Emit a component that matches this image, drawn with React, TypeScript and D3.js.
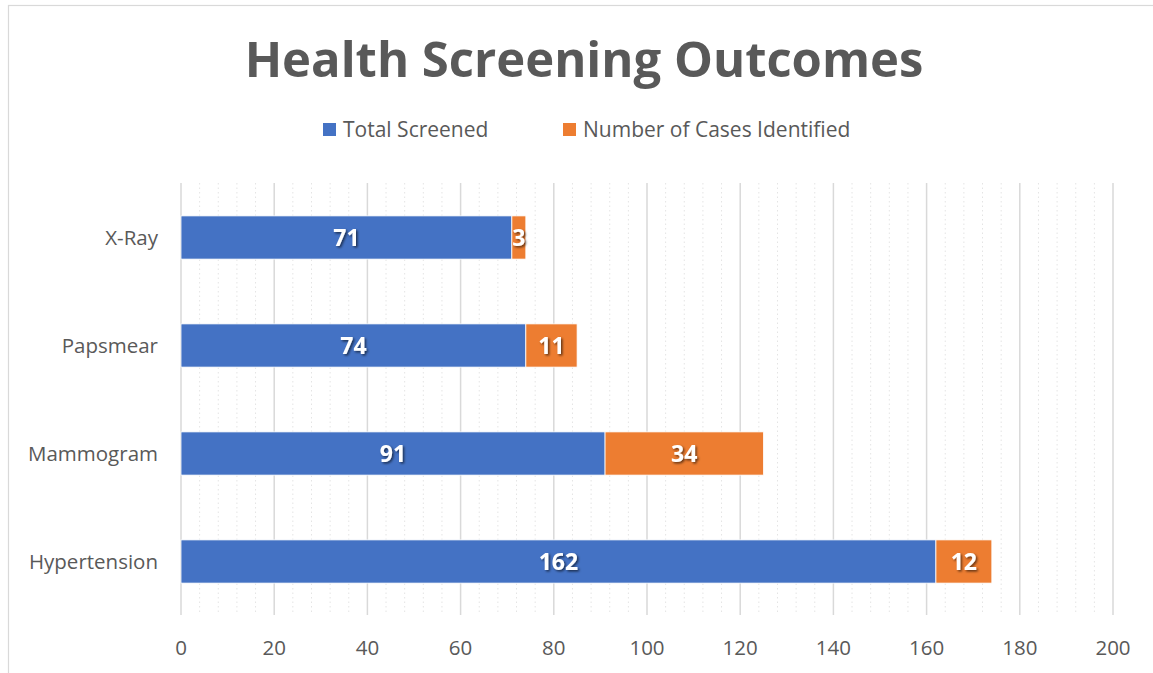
import React, { useEffect, useRef } from 'react';
import * as d3 from 'd3';

const categories = ['X-Ray', 'Papsmear', 'Mammogram', 'Hypertension'];
const totalScreened = [71, 74, 91, 162];
const casesIdentified = [3, 11, 34, 12];
const seriesNames = ['Total Screened', 'Number of Cases Identified'];
const xTicks = [0, 20, 40, 60, 80, 100, 120, 140, 160, 180, 200];

const W = 1153;
const H = 673;
const FONT = "'Open Sans', 'Noto Sans', sans-serif";

const App = () => {
  const svgRef = useRef<SVGSVGElement>(null);

  useEffect(() => {
    document.body.style.margin = '0';
    const svg = d3.select(svgRef.current).attr('width', W).attr('height', H);
    svg.selectAll('*').remove();

    svg.append('rect').attr('width', W).attr('height', H).attr('fill', '#fff');
    // chart border
    svg.append('rect')
      .attr('x', 8.5).attr('y', 5.5).attr('width', W).attr('height', H)
      .attr('fill', 'none').attr('stroke', '#d9d9d9').attr('stroke-width', 1.2);

    const defs = svg.append('defs');
    const f = defs.append('filter').attr('id', 'shadow')
      .attr('x', '-20%').attr('y', '-20%').attr('width', '150%').attr('height', '150%');
    f.append('feDropShadow')
      .attr('dx', 1.5).attr('dy', 1.5).attr('stdDeviation', 1)
      .attr('flood-color', '#000').attr('flood-opacity', 0.6);

    svg.append('text')
      .attr('x', 584).attr('y', 77)
      .attr('text-anchor', 'middle')
      .style('font-family', FONT)
      .style('font-size', '49px')
      .style('font-weight', '700')
      .style('fill', '#595959')
      .text('Health Screening Outcomes');

    // legend
    const colors = ['#4472c4', '#ed7d31'];
    const legendX = [323, 563];
    seriesNames.forEach((name, i) => {
      svg.append('rect')
        .attr('x', legendX[i]).attr('y', 123).attr('width', 13).attr('height', 13)
        .attr('fill', colors[i]);
      svg.append('text')
        .attr('x', legendX[i] + 20).attr('y', 137)
        .style('font-family', FONT).style('font-size', '21px').style('fill', '#595959')
        .text(name);
    });

    const x = d3.scaleLinear().domain([0, 200]).range([181, 1113]);
    const y = d3.scaleBand().domain(categories).range([183.5, 615.5]).paddingInner(0.6).paddingOuter(0.3);

    const g = svg.append('g');
    // minor gridlines
    g.selectAll('line.minor')
      .data(d3.range(0, 201, 4).filter(v => v % 20 !== 0))
      .enter().append('line')
      .attr('x1', d => x(d)).attr('x2', d => x(d))
      .attr('y1', 183).attr('y2', 615)
      .attr('stroke', '#e4e4e4').attr('stroke-width', 1).attr('stroke-dasharray', '1.5,3');
    // major gridlines
    g.selectAll('line.major')
      .data(xTicks)
      .enter().append('line')
      .attr('x1', d => x(d)).attr('x2', d => x(d))
      .attr('y1', 183).attr('y2', 615)
      .attr('stroke', '#d9d9d9').attr('stroke-width', 1.5);

    const rows = categories.map((c, i) => ({ c, a: totalScreened[i], b: casesIdentified[i] }));
    const bars = g.selectAll('g.row').data(rows).enter().append('g');
    bars.append('rect')
      .attr('x', x(0)).attr('y', d => y(d.c)!)
      .attr('width', d => x(d.a) - x(0)).attr('height', y.bandwidth())
      .attr('fill', colors[0]).attr('stroke', '#fff').attr('stroke-width', 0.8);
    bars.append('rect')
      .attr('x', d => x(d.a)).attr('y', d => y(d.c)!)
      .attr('width', d => x(d.a + d.b) - x(d.a)).attr('height', y.bandwidth())
      .attr('fill', colors[1]).attr('stroke', '#fff').attr('stroke-width', 0.8);

    const lbl = (sel: any, fx: (d: any) => number, fv: (d: any) => number) =>
      sel.append('text')
        .attr('x', fx).attr('y', (d: any) => y(d.c)! + y.bandwidth() / 2)
        .attr('dy', '0.36em').attr('text-anchor', 'middle')
        .attr('filter', 'url(#shadow)')
        .style('font-family', FONT).style('font-size', '23px').style('font-weight', '700')
        .style('fill', '#fff')
        .text(fv);
    lbl(bars, d => x(d.a / 2), d => d.a);
    lbl(bars, d => x(d.a + d.b / 2), d => d.b);

    // category labels
    svg.selectAll('text.cat').data(categories).enter().append('text')
      .attr('x', 158).attr('y', d => y(d)! + y.bandwidth() / 2)
      .attr('dy', '0.35em').attr('text-anchor', 'end')
      .style('font-family', FONT).style('font-size', '20.5px').style('fill', '#595959')
      .text(d => d);

    // x tick labels
    svg.selectAll('text.tick').data(xTicks).enter().append('text')
      .attr('x', d => x(d)).attr('y', 655)
      .attr('text-anchor', 'middle')
      .style('font-family', FONT).style('font-size', '20.5px').style('fill', '#595959')
      .text(d => d);
  }, []);

  return <svg ref={svgRef} style={{ display: 'block' }}></svg>;
};

export default App;
